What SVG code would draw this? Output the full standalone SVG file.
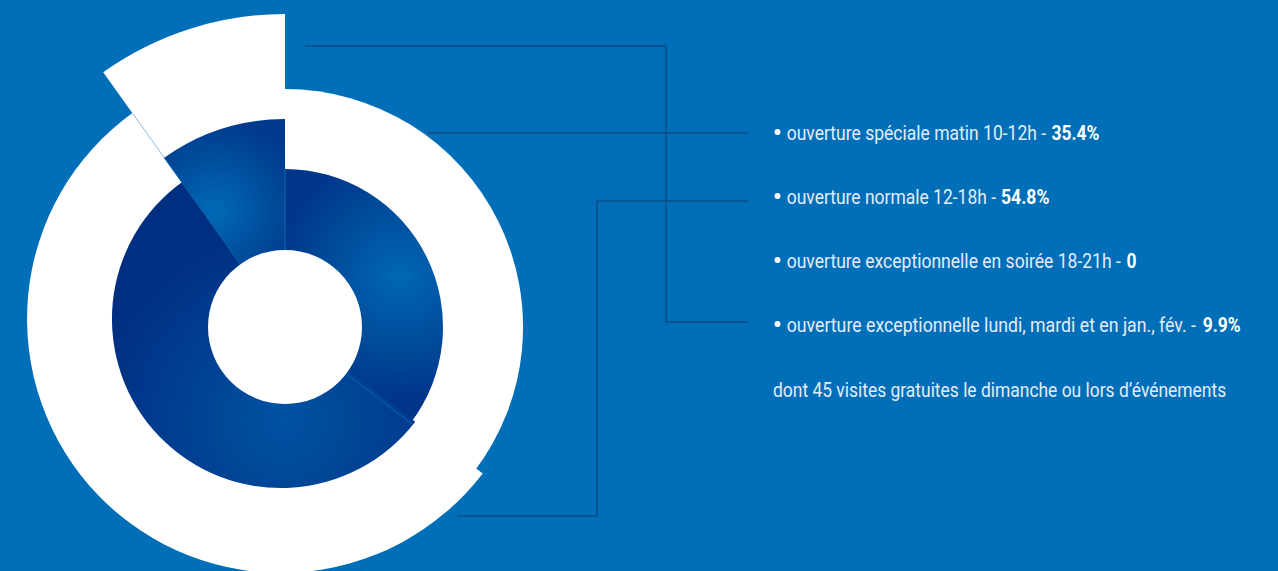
<svg xmlns="http://www.w3.org/2000/svg" width="1278" height="571" viewBox="0 0 1278 571">
  <defs>
    <radialGradient id="g1" gradientUnits="userSpaceOnUse" cx="400" cy="276" r="125">
      <stop offset="0" stop-color="#0068b3"/>
      <stop offset="0.55" stop-color="#004c9c"/>
      <stop offset="1" stop-color="#00358a"/>
    </radialGradient>
    <radialGradient id="g2" gradientUnits="userSpaceOnUse" cx="285" cy="420" r="190">
      <stop offset="0" stop-color="#0052a2"/>
      <stop offset="0.6" stop-color="#003e91"/>
      <stop offset="1" stop-color="#002f82"/>
    </radialGradient>
    <radialGradient id="g4" gradientUnits="userSpaceOnUse" cx="215" cy="210" r="90">
      <stop offset="0" stop-color="#006ab6"/>
      <stop offset="0.6" stop-color="#004c9c"/>
      <stop offset="1" stop-color="#003a8e"/>
    </radialGradient>
    <style>
      .white { fill: #ffffff; }
      .seam { stroke: #0a66b1; stroke-width: 1; fill: none; }
      .conn { stroke: #0b4d88; stroke-width: 1.5; fill: none; }
      .lbl { font-family: Roboto, "Liberation Sans", sans-serif; font-size: 20px; fill: #e3ecf6; }
      .b { font-family: Roboto, "Liberation Sans", sans-serif; font-size: 20px; font-weight: bold; fill: #ffffff; }
      .dot { fill: #ffffff; }
    </style>
  </defs>
  <rect width="1278" height="571" fill="#006fb8"/>

  <g id="seg-speciale">
    <path class="white" d="M285,327 L285,89 A238,238 0 0 1 474,471.7 Z"/>
  </g>
  <g id="seg-normale">
    <path class="white" d="M281,319 L482.7,473.4 A254,254 0 1 1 133.5,112.2 Z"/>
  </g>
  <g id="seg-lundi">
    <path class="white" d="M285,327 L103.2,72.2 A313,313 0 0 1 285,14 Z"/>
  </g>

  <g id="dark-speciale">
    <path fill="url(#g1)" d="M285,327 L285,169 A158,158 0 0 1 410.5,423 Z"/>
  </g>
  <g id="dark-normale">
    <path fill="url(#g2)" d="M281,319 L415.2,421.7 A169,169 0 1 1 182.9,181.4 Z"/>
  </g>
  <g id="dark-lundi">
    <path fill="url(#g4)" d="M285,327 L164.2,157.7 A208,208 0 0 1 285,119 Z"/>
  </g>

  <g id="seams">
    <line class="seam" x1="285" y1="169" x2="285" y2="252"/>
    <line class="seam" x1="346.1" y1="373.8" x2="412" y2="424"/>
    <line class="seam" x1="240.3" y1="264.3" x2="164.2" y2="157.7" stroke="#1a72ba"/>
    <line x1="164.2" y1="157.7" x2="132.9" y2="113.7" stroke="#8fb9de" stroke-width="1"/>
  </g>

  <g id="center">
    <circle class="white" cx="285" cy="327" r="77"/>
  </g>

  <g id="connectors">
    <path class="conn" d="M305,46 H666 V322 H748"/>
    <path class="conn" d="M428,133 H748"/>
    <path class="conn" d="M457,516 H597 V201 H748"/>
  </g>

  <g id="label-speciale">
    <circle class="dot" cx="777.5" cy="132" r="3"/>
    <text class="lbl" transform="translate(786.7,139.5) scale(0.876,1)">ouverture spéciale matin 10-12h -</text>
    <text class="b" transform="translate(1051.5,139.5) scale(0.87,1)">35.4%</text>
  </g>
  <g id="label-normale">
    <circle class="dot" cx="777.5" cy="196" r="3"/>
    <text class="lbl" transform="translate(786.7,203.5) scale(0.874,1)">ouverture normale 12-18h -</text>
    <text class="b" transform="translate(1001,203.5) scale(0.88,1)">54.8%</text>
  </g>
  <g id="label-soiree">
    <circle class="dot" cx="777.5" cy="260" r="3"/>
    <text class="lbl" transform="translate(786.7,267.5) scale(0.878,1)">ouverture exceptionnelle en soirée 18-21h -</text>
    <text class="b" transform="translate(1126.5,267.5) scale(0.872,1)">0</text>
  </g>
  <g id="label-lundi">
    <circle class="dot" cx="777.5" cy="324" r="3"/>
    <text class="lbl" transform="translate(786.7,331.5) scale(0.886,1)">ouverture exceptionnelle lundi, mardi et en jan., fév. -</text>
    <text class="b" transform="translate(1202.7,331.5) scale(0.872,1)">9.9%</text>
  </g>
  <g id="label-gratuites">
    <text class="lbl" transform="translate(773,396.5) scale(0.872,1)">dont 45 visites gratuites le dimanche ou lors d’événements</text>
  </g>
</svg>
